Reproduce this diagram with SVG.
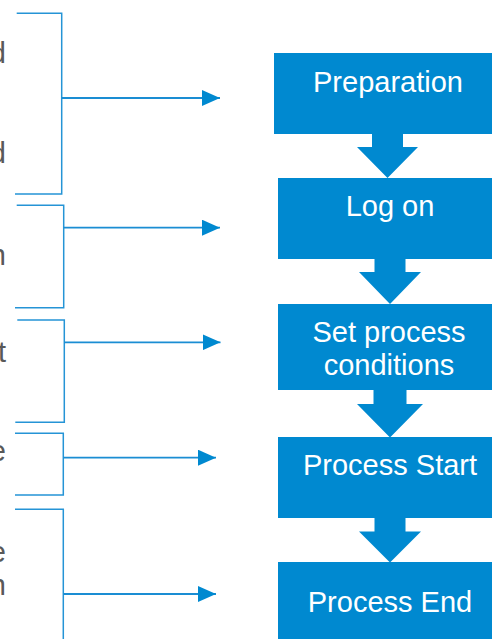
<svg xmlns="http://www.w3.org/2000/svg" width="492" height="639" viewBox="0 0 492 639">
  <style>
    .step { fill: #0089D0; }
    .down { fill: #0089D0; }
    .label { font-family: "Liberation Sans", Arial, sans-serif; font-size: 29px; fill: #FFFFFF; text-anchor: middle; }
    .side { font-family: "Liberation Sans", Arial, sans-serif; font-size: 29px; fill: #595959; text-anchor: end; }
    .brace { fill: none; stroke: #2594D6; stroke-width: 1.5; }
    .link { fill: none; stroke: #1A8DD3; stroke-width: 1.8; marker-end: url(#head); }
  </style>
  <defs>
    <marker id="head" viewBox="0 0 18 16" markerWidth="18" markerHeight="16" refX="18" refY="8" markerUnits="userSpaceOnUse" orient="auto">
      <polygon points="0,0 18,8 0,16" fill="#0089D0"/>
    </marker>
  </defs>

  <rect width="492" height="639" fill="#FFFFFF"/>

  <!-- descriptions on the left (running off the edge) -->
  <g id="notes">
    <text class="side" x="6" y="63">d</text>
    <text class="side" x="6" y="163">d</text>
    <text class="side" x="6" y="265">n</text>
    <text class="side" x="6" y="362">t</text>
    <text class="side" x="6" y="461">e</text>
    <text class="side" x="6" y="562">e</text>
    <text class="side" x="6" y="595">n</text>
  </g>

  <!-- brackets and pointers -->
  <g id="connectors">
    <path class="brace" d="M16.7,13.3 H61.7 V194 H15"/>
    <path class="link" d="M61.7,98 H220"/>
    <path class="brace" d="M16.7,205.3 H63.7 V307.7 H15"/>
    <path class="link" d="M63.7,227.7 H220"/>
    <path class="brace" d="M17.3,320 H64.3 V422.3 H15.3"/>
    <path class="link" d="M64.3,342.3 H220.5"/>
    <path class="brace" d="M15,433.3 H63.3 V495 H15"/>
    <path class="link" d="M63.3,457.7 H216"/>
    <path class="brace" d="M15,509.3 H63.3 V640"/>
    <path class="link" d="M63.3,594 H216"/>

    <!-- block arrows between steps -->
    <polygon class="down" points="372,133 403,133 403,147 418,147 387.5,178 357,147 372,147"/>
    <polygon class="down" points="374.5,258 405.5,258 405.5,272 421,272 390,304 359,272 374.5,272"/>
    <polygon class="down" points="373.5,389 406.5,389 406.5,404 423,404 390,437.5 357,404 373.5,404"/>
    <polygon class="down" points="374.5,517 405.5,517 405.5,531.5 421,531.5 390,562.5 359,531.5 374.5,531.5"/>
  </g>

  <g id="preparation">
    <rect class="step" x="274" y="53" width="218" height="81"/>
    <text class="label" x="388" y="92">Preparation</text>
  </g>
  <g id="log-on">
    <rect class="step" x="278" y="178" width="214" height="81"/>
    <text class="label" x="390" y="216">Log on</text>
  </g>
  <g id="set-conditions">
    <rect class="step" x="278" y="304" width="214" height="86"/>
    <text class="label" x="389" y="342">Set process</text>
    <text class="label" x="389" y="375">conditions</text>
  </g>
  <g id="process-start">
    <rect class="step" x="278" y="437" width="214" height="81"/>
    <text class="label" x="390" y="475">Process Start</text>
  </g>
  <g id="process-end">
    <rect class="step" x="278" y="562" width="214" height="77"/>
    <text class="label" x="390" y="612">Process End</text>
  </g>
</svg>
